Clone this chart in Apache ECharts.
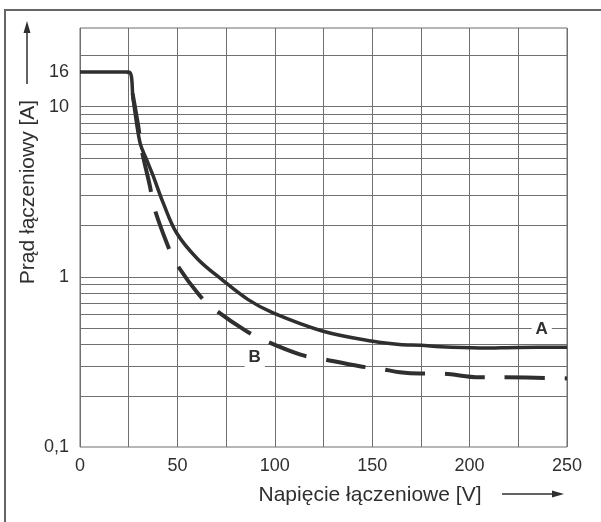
<!DOCTYPE html>
<html><head><meta charset="utf-8">
<script src="https://cdn.jsdelivr.net/npm/echarts@6/dist/echarts.min.js"></script>
<style>html,body{margin:0;padding:0;background:#fff}#c{width:601px;height:522px}</style>
</head><body><div id="c"></div>
<script>
// Curve A (solid): switching current [A] vs switching voltage [V]
const voltageA = [0, 25, 27.3, 30.8, 34.2, 37.6, 42.7, 49.6, 60.5, 73, 86.3, 99.1, 124.8, 150.4, 164, 175, 185, 205, 225, 250];
const currentA = [16, 16, 11.0, 6.14, 4.88, 3.91, 2.72, 1.81, 1.27, 0.96, 0.735, 0.614, 0.479, 0.418, 0.40, 0.396, 0.388, 0.382, 0.385, 0.386];
// Curve B (dashed)
const voltageB = [25, 29.9, 31.6, 35.9, 37.9, 44.5, 49.2, 61.0, 68.7, 85.0, 94.5, 113.2, 123.4, 143.6, 154.2, 164.1, 174.4, 184.6, 205.1, 215.4, 250];
const currentB = [16, 7.69, 5.61, 3.41, 2.60, 1.585, 1.21, 0.787, 0.651, 0.483, 0.424, 0.349, 0.331, 0.298, 0.288, 0.275, 0.270, 0.270, 0.257, 0.257, 0.253];
// Axes
const xTickLabels = [0, 50, 100, 150, 200, 250];
const yTickLabels = [0.1, 1, 10, 16];
const yGridValues = [0.2, 0.3, 0.4, 0.5, 0.6, 0.7, 0.8, 0.9, 1, 2, 3, 4, 5, 6, 7, 8, 9, 10, 20];
const seriesNames = ['A', 'B'];

const FONT = "'Liberation Sans', Arial, sans-serif";
const INK = '#2f2f2f';
const GRID = '#6f6f6f';

const pairs = (xs, ys) => xs.map((x, i) => [x, ys[i]]);

const curveLabel = (name, coord) => ({
  symbol: 'rect', symbolSize: 1, itemStyle: {color: 'rgba(0,0,0,0)'},
  label: {show: true, position: 'inside', formatter: name, fontSize: 17, fontWeight: 'bold', fontFamily: FONT,
    color: INK, backgroundColor: '#fff', padding: [1, 4]},
  data: [{coord: coord}]
});

const chart = echarts.init(document.getElementById('c'), null, {renderer: 'canvas'});
chart.setOption({
  animation: false,
  backgroundColor: '#fff',
  grid: {left: 80, right: 34, top: 28, bottom: 75, show: true, borderColor: GRID, borderWidth: 1},
  xAxis: {
    type: 'value', min: 0, max: 250, interval: 25,
    axisLine: {show: false}, axisTick: {show: false},
    splitLine: {show: true, lineStyle: {color: GRID, width: 1}},
    axisLabel: {
      margin: 10, fontSize: 18, fontFamily: FONT, color: INK,
      formatter: v => (xTickLabels.indexOf(v) >= 0 ? String(v) : '')
    }
  },
  yAxis: {
    type: 'log', logBase: 10, min: 0.1, max: 29,
    axisLine: {show: false}, axisTick: {show: false},
    splitLine: {show: false},
    axisLabel: {
      margin: 11, fontSize: 18, fontFamily: FONT, color: INK,
      customValues: yTickLabels,
      formatter: v => String(+v.toPrecision(6)).replace('.', ',')
    }
  },
  graphic: [
    {type: 'rect', shape: {x: 5, y: 10, width: 800, height: 800}, style: {fill: 'none', stroke: '#666', lineWidth: 2}, z: 100},
    {type: 'line', shape: {x1: 27, y1: 84, x2: 27, y2: 30}, style: {stroke: INK, lineWidth: 1.5}, z: 100},
    {type: 'polygon', shape: {points: [[27, 21], [23.5, 33], [30.5, 33]]}, style: {fill: INK}, z: 100},
    {type: 'line', shape: {x1: 502, y1: 494, x2: 555, y2: 494}, style: {stroke: INK, lineWidth: 1.5}, z: 100},
    {type: 'polygon', shape: {points: [[564, 494], [552, 490.5], [552, 497.5]]}, style: {fill: INK}, z: 100},
    {type: 'text', x: 28, y: 192, rotation: Math.PI / 2,
      style: {text: 'Prąd łączeniowy [A]', font: '21px ' + FONT, fill: INK, textAlign: 'center', textVerticalAlign: 'middle'}, z: 100},
    {type: 'text', x: 370, y: 495,
      style: {text: 'Napięcie łączeniowe [V]', font: '21px ' + FONT, fill: INK, textAlign: 'center', textVerticalAlign: 'middle'}, z: 100}
  ],
  series: [
    {
      type: 'line', name: 'grid', data: [], silent: true, z: 1,
      markLine: {
        silent: true, symbol: ['none', 'none'], animation: false,
        label: {show: false},
        lineStyle: {color: GRID, width: 1, type: 'solid'},
        data: yGridValues.map(v => ({yAxis: v}))
      }
    },
    {
      type: 'line', name: seriesNames[0], data: pairs(voltageA, currentA),
      showSymbol: false, smooth: 0.35, z: 5,
      lineStyle: {color: INK, width: 3.5},
      markPoint: curveLabel(seriesNames[0], [237, 0.49])
    },
    {
      type: 'line', name: seriesNames[1], data: pairs(voltageB, currentB),
      showSymbol: false, smooth: 0.35, z: 5,
      lineStyle: {color: INK, width: 4, type: [40, 20], dashOffset: 38},
      markPoint: curveLabel(seriesNames[1], [89.7, 0.335])
    }
  ]
});
</script></body></html>
